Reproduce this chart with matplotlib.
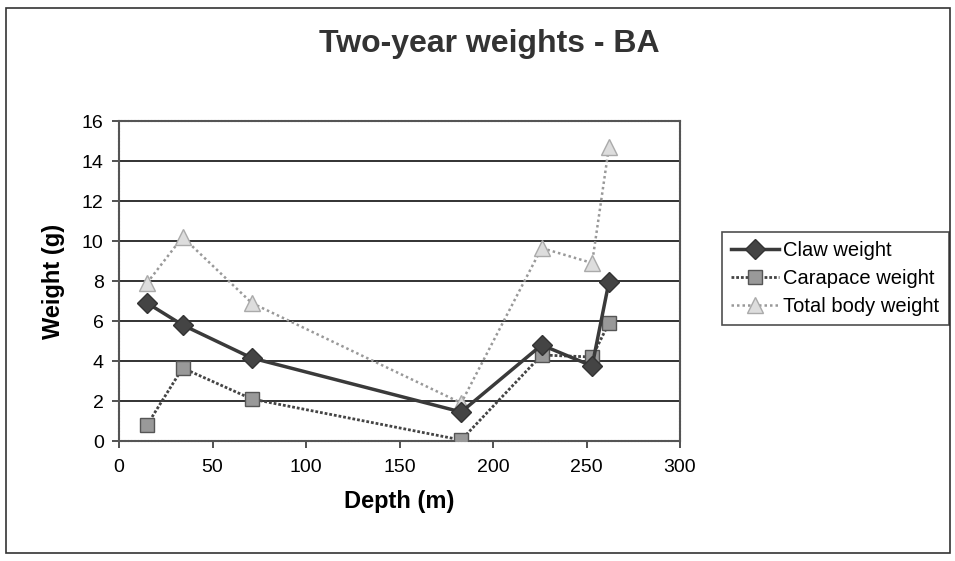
import matplotlib
matplotlib.use("Agg")
import matplotlib.pyplot as plt
from matplotlib.patches import Rectangle

plt.rcParams['font.family'] = ['Liberation Sans', 'DejaVu Sans']

depth = [15, 34, 71, 183, 226, 253, 262]
claw = [6.9, 5.8, 4.15, 1.45, 4.8, 3.75, 7.95]
carapace = [0.8, 3.65, 2.1, 0.05, 4.3, 4.2, 5.9]
total = [7.9, 10.2, 6.9, 1.9, 9.65, 8.9, 14.7]
series_names = ["Claw weight", "Carapace weight", "Total body weight"]
yticks = [0, 2, 4, 6, 8, 10, 12, 14, 16]
xticks = [0, 50, 100, 150, 200, 250, 300]

W, H = 955, 561
fig = plt.figure(figsize=(W/100, H/100), dpi=100)
fig.patch.set_facecolor('white')
fig.patches.append(Rectangle((6/W, 8/H), 944/W, 545/H, transform=fig.transFigure,
                             fill=False, edgecolor='#333333', linewidth=1.2))

ax = fig.add_axes([119/W, 1-441/H, (680-119)/W, (441-121)/H])
ax.set_xlim(0, 300)
ax.set_ylim(0, 16)
ax.set_xticks(xticks)
ax.set_yticks(yticks)
ax.yaxis.grid(True, color='#222222', linewidth=1.3)
ax.set_axisbelow(True)
for s in ax.spines.values():
    s.set_color('#555555')
    s.set_linewidth(1.5)
    s.set_linestyle((0, (1, 0.6)))
ax.tick_params(axis='both', labelsize=14, length=5, width=1.2, color='#333333', direction='out')
ax.tick_params(axis='x', pad=8)
ax.tick_params(axis='y', pad=6)

l1, = ax.plot(depth, claw, color='#3a3a3a', linewidth=2.5, marker='D', markersize=10,
              markerfacecolor='#444444', markeredgecolor='#333333', label=series_names[0], zorder=4)
l2, = ax.plot(depth, carapace, color='#444444', linewidth=2, linestyle=(0, (1, 0.7)), marker='s', markersize=10,
              markerfacecolor='#999999', markeredgecolor='#555555', label=series_names[1], zorder=3)
l3, = ax.plot(depth, total, color='#999999', linewidth=1.8, linestyle=(0, (1, 1.2)), marker='^', markersize=11,
              markerfacecolor='#dddddd', markeredgecolor='#aaaaaa', label=series_names[2], zorder=2)

ax.set_xlabel("Depth (m)", fontsize=17, fontweight='bold', labelpad=10)
ax.set_ylabel("Weight (g)", fontsize=17, fontweight='bold', labelpad=12)
fig.text(489/W, 1-44/H, "Two-year weights - BA", fontsize=23, fontweight='bold',
         color='#333333', ha='center', va='center')

leg = fig.legend(handles=[l1, l2, l3], loc='upper left', bbox_to_anchor=(722/W, 1-232/H),
                 fontsize=14.5, frameon=True, fancybox=False, edgecolor='#222222',
                 handlelength=2.4, handletextpad=0.2, borderpad=0.45, labelspacing=0.45,
                 borderaxespad=0)
leg.get_frame().set_linewidth(1.2)

fig.savefig("out.png", dpi=100, facecolor='white')
